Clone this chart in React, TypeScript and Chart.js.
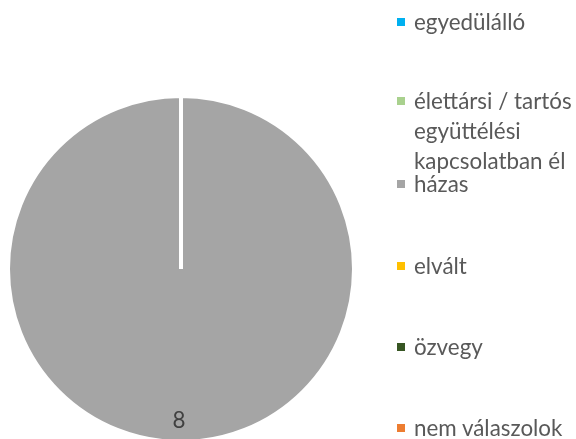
import React, { useEffect, useRef } from "react";
import { Chart, registerables } from "chart.js";

Chart.register(...registerables);

const categories = [
  "egyedülálló",
  "élettársi / tartós együttélési kapcsolatban él",
  "házas",
  "elvált",
  "özvegy",
  "nem válaszolok",
];
const legendLines = [
  ["egyedülálló"],
  ["élettársi / tartós", "együttélési", "kapcsolatban él"],
  ["házas"],
  ["elvált"],
  ["özvegy"],
  ["nem válaszolok"],
];
const values = [0, 0, 8, 0, 0, 0];
const colors = ["#00B0F0", "#A9D18E", "#A5A5A5", "#FFC000", "#375623", "#ED7D31"];

const FONT = "Lato, 'Noto Sans', sans-serif";
const FONT_SIZE = 22.4;

const sliceLabels = {
  id: "sliceLabels",
  afterDatasetsDraw(chart: any) {
    const ctx = chart.ctx;
    const meta = chart.getDatasetMeta(0);
    const data = chart.data.datasets[0].data;
    meta.data.forEach((arc: any, i: number) => {
      const v = data[i];
      if (!v) return;
      const p = arc.getProps(["x", "y", "startAngle", "endAngle", "outerRadius"], true);
      const mid = (p.startAngle + p.endAngle) / 2;
      const r = p.outerRadius * 0.875;
      ctx.save();
      ctx.font = `${FONT_SIZE}px ${FONT}`;
      ctx.fillStyle = "#404040";
      ctx.textAlign = "center";
      ctx.textBaseline = "middle";
      ctx.fillText(String(v), p.x + Math.cos(mid) * r - 2, p.y + Math.sin(mid) * r);
      ctx.restore();
    });
  },
};

export default function App() {
  const ref = useRef<HTMLCanvasElement>(null);
  useEffect(() => {
    if (!ref.current) return;
    const chart = new Chart(ref.current, {
      type: "pie",
      data: {
        labels: categories,
        datasets: [
          {
            data: values,
            backgroundColor: colors,
            borderColor: "#ffffff",
            borderWidth: 4,
            clip: false as any,
          } as any,
        ],
      },
      options: {
        responsive: false,
        animation: false,
        radius: 173,
        layout: { padding: { left: 9, right: 223, top: 100, bottom: 1 } },
        plugins: {
          legend: { display: false },
          tooltip: { enabled: false },
        },
      } as any,
      plugins: [sliceLabels],
    });
    return () => chart.destroy();
  }, []);

  const step = 81.2;
  return (
    <div style={{ position: "absolute", left: 0, top: 0, width: 576, height: 439, overflow: "hidden", background: "#fff" }}>
      <canvas ref={ref} width={576} height={439} style={{ position: "absolute", left: 0, top: 0, width: 576, height: 439 }} />
      {categories.map((c, i) => {
        const cy = 22 + i * step + (i === 1 ? -2 : 0);
        return (
          <div key={c} style={{ position: "absolute", left: 397, top: cy - 4 }}>
            <div style={{ position: "absolute", left: 0, top: 0, width: 8, height: 8, background: colors[i] }} />
            {legendLines[i].map((t, j) => (
              <div
                key={j}
                style={{
                  position: "absolute",
                  left: 17,
                  top: 4 + j * 30 - 15,
                  height: 30,
                  lineHeight: "30px",
                  whiteSpace: "nowrap",
                  fontFamily: FONT,
                  fontSize: FONT_SIZE,
                  color: "#595959",
                }}
              >
                {t}
              </div>
            ))}
          </div>
        );
      })}
    </div>
  );
}
